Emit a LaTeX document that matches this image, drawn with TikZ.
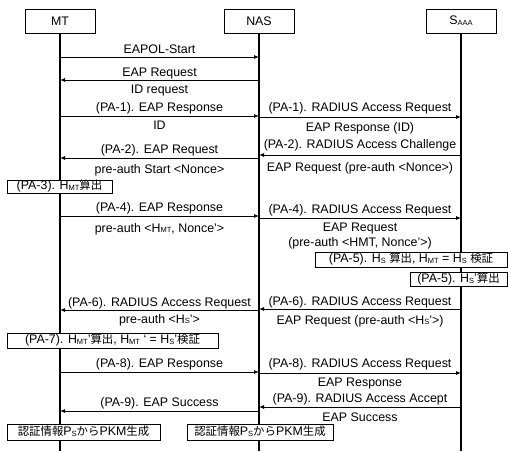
\documentclass[tikz,border=0pt]{standalone}
\usepackage{fontspec}
\setmainfont{Liberation Sans}
\newfontfamily\jpfont[Scale=0.92]{Noto Sans CJK JP}
\newcommand\ja[1]{{\jpfont #1}}
\newcommand\lo[1]{\raisebox{-0.12ex}{\fontsize{7.5}{7.5}\selectfont #1}}
\usetikzlibrary{arrows.meta}

\begin{document}
\begin{tikzpicture}[x=1pt,y=-1pt,
  font=\fontsize{12.4}{14}\selectfont,
  actor/.style={draw, fill=white, line width=0.8pt, minimum width=70, minimum height=24, inner sep=0},
  life/.style={line width=1.1pt},
  msg/.style={line width=0.9pt, -{Latex[length=5pt,width=4pt]}},
  lbl/.style={anchor=base, inner sep=0},
  note/.style={draw, fill=white, line width=0.8pt, inner sep=0, text height=9pt, text depth=2.5pt}]

\useasboundingbox (0,0) rectangle (508,451);

% participants
\node[actor] (mt)  at (60,21)  {MT};
\node[actor] (nas) at (259,21) {NAS};
\node[actor] (aaa) at (461,21) {S\lo{AAA}};

% lifelines
\draw[life] (mt.south)  -- (mt |- 0,451);
\draw[life] (nas.south) -- (nas |- 0,451);
\draw[life] (aaa.south) -- (aaa |- 0,451);

% MT <-> NAS
\node[lbl] (l1) at (159.5,53) {EAPOL-Start};
\draw[msg] (mt |- 0,57) -- (nas |- 0,57);
\node[lbl] (l2) at (159.5,76) {EAP Request};
\draw[msg] (nas |- 0,80) -- (mt |- 0,80);
\node[lbl] (l3) at (159.5,93) {ID request};
\node[lbl] (l4) at (159.5,111) {(PA-1). EAP Response};
\draw[msg] (mt |- 0,116) -- (nas |- 0,116);
\node[lbl] (l5) at (159.5,129) {ID};
\node[lbl] (l6) at (159.5,153) {(PA-2). EAP Request};
\draw[msg] (nas |- 0,158) -- (mt |- 0,158);
\node[lbl] (l7) at (159.5,173) {pre-auth Start <Nonce>};
\node[lbl] (l8) at (159.5,211) {(PA-4). EAP Response};
\draw[msg] (mt |- 0,216) -- (nas |- 0,216);
\node[lbl] (l9) at (159.5,232) {pre-auth <H\lo{MT}, Nonce’>};
\node[lbl] (l10) at (159.5,306) {(PA-6). RADIUS Access Request};
\draw[msg] (nas |- 0,310) -- (mt |- 0,310);
\node[lbl] (l11) at (159.5,323) {pre-auth <H\lo{S}’>};
\node[lbl] (l12) at (159.5,367) {(PA-8). EAP Response};
\draw[msg] (mt |- 0,372) -- (nas |- 0,372);
\node[lbl] (l13) at (159.5,406) {(PA-9). EAP Success};
\draw[msg] (nas |- 0,411) -- (mt |- 0,411);

% NAS <-> S_AAA
\node[lbl] (r1) at (360,111) {(PA-1). RADIUS Access Request};
\draw[msg] (nas |- 0,117) -- (aaa |- 0,117);
\node[lbl] (r2) at (360,131) {EAP Response (ID)};
\node[lbl] (r3) at (360,148) {(PA-2). RADIUS Access Challenge};
\draw[msg] (aaa |- 0,155) -- (nas |- 0,155);
\node[lbl] (r4) at (360,171) {EAP Request (pre-auth <Nonce>)};
\node[lbl] (r5) at (360,213) {(PA-4). RADIUS Access Request};
\draw[msg] (nas |- 0,218) -- (aaa |- 0,218);
\node[lbl] (r6) at (360,231) {EAP Request};
\node[lbl] (r7) at (360,246) {(pre-auth <HMT, Nonce’>)};
\node[lbl] (r8) at (360,305) {(PA-6). RADIUS Access Request};
\draw[msg] (aaa |- 0,309) -- (nas |- 0,309);
\node[lbl] (r9) at (360,324) {EAP Request (pre-auth <H\lo{S}’>)};
\node[lbl] (r10) at (360,367) {(PA-8). RADIUS Access Request};
\draw[msg] (nas |- 0,373) -- (aaa |- 0,373);
\node[lbl] (r11) at (360,386) {EAP Response};
\node[lbl] (r12) at (360,402) {(PA-9). RADIUS Access Accept};
\draw[msg] (aaa |- 0,407) -- (nas |- 0,407);
\node[lbl] (r13) at (360,421) {EAP Success};

% local computations
\node[note, minimum width=105, minimum height=13] (pa3) at (59.5,186.5)
  {(PA-3). H\lo{MT}\ja{算出}};
\node[note, minimum width=192, minimum height=15] (pa5a) at (411,259.5)
  {(PA-5). H\lo{S} \ja{算出}, H\lo{MT} = H\lo{S} \ja{検証}};
\node[note, minimum width=97, minimum height=14] (pa5b) at (458.5,279)
  {(PA-5). H\lo{S}’\ja{算出}};
\node[note, minimum width=211, minimum height=15] (pa7) at (112.5,340.5)
  {(PA-7). H\lo{MT}’\ja{算出}, H\lo{MT} ‘ = H\lo{S}’\ja{検証}};
\node[note, minimum width=153, minimum height=16] (pkm1) at (83.5,432)
  {\ja{認証情報}P\lo{S}\ja{から}PKM\ja{生成}};
\node[note, minimum width=146, minimum height=16] (pkm2) at (260,432)
  {\ja{認証情報}P\lo{S}\ja{から}PKM\ja{生成}};

\end{tikzpicture}
\end{document}
